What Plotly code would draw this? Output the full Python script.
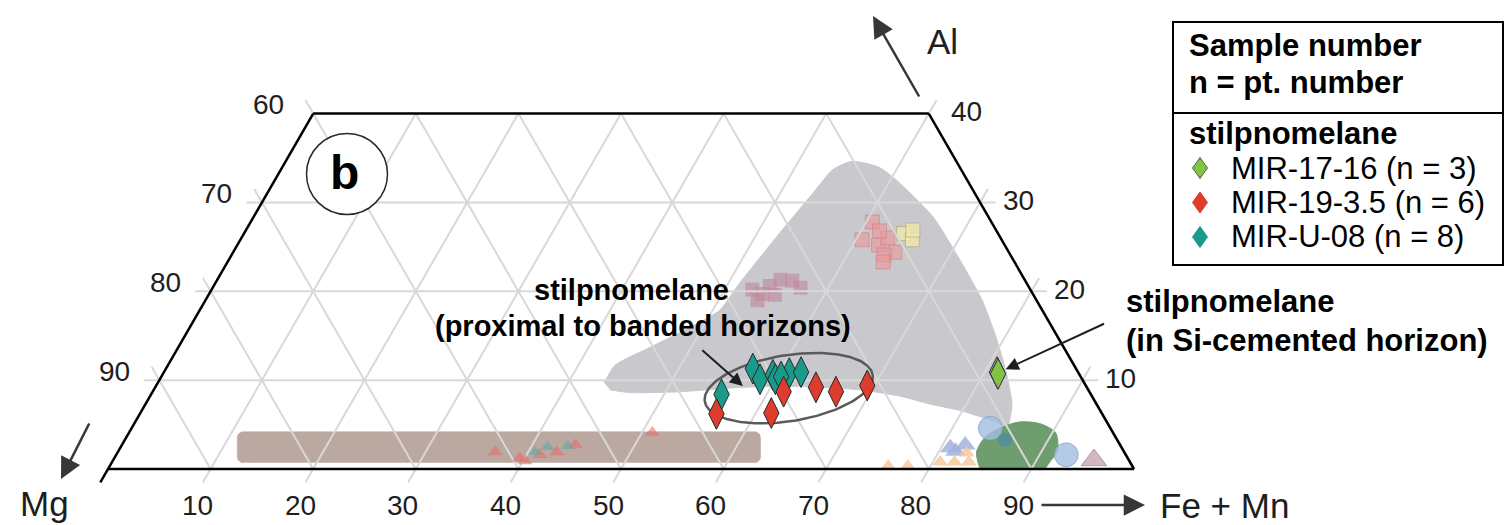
import numpy as np
import plotly.graph_objects as go

W, H = 1512, 525
FONT = "Liberation Sans, Arial, sans-serif"

# ---- ternary axes (Mg - Al - Fe+Mn), truncated at Al = 40 ----
FE_TICKS = [10, 20, 30, 40, 50, 60, 70, 80, 90]
MG_TICKS = [60, 70, 80, 90]
AL_TICKS = [40, 30, 20, 10]
AL_TOP = 40

# ---- stilpnomelane analyses: Fe+Mn and Al (mol. %) ----
MIR_17_16_FE = [81.3, 81.2, 81.4]
MIR_17_16_AL = [10.8, 10.9, 10.7]
MIR_19_35_FE = [56.2, 61.5, 61.5, 64.4, 66.6, 69.3]
MIR_19_35_AL = [6.2, 6.3, 8.7, 9.2, 8.7, 9.4]
MIR_U_08_FE = [57.2, 58.5, 59.5, 60.0, 61.0, 62.1, 55.6, 60.4]
MIR_U_08_AL = [11.3, 10.1, 10.6, 10.1, 10.8, 10.9, 8.4, 10.4]

SAMPLE_NAMES = ["MIR-17-16 (n = 3)", "MIR-19-3.5 (n = 6)", "MIR-U-08 (n = 8)"]
SAMPLE_COLORS = ["rgb(128,196,66)", "rgb(222,60,44)", "rgb(26,154,138)"]

# ---- published compositional fields (Fe+Mn, Al) ----
GRAY_FIELD_FE = [43.5, 43.6, 46.0, 49.4, 50.7, 51.1, 52.2, 53.2, 53.8, 55.1, 56.7, 58.3,
                 60.6, 66.2, 71.3, 75.7, 79.4, 82.3, 84.5, 85.2, 83.0, 79.7, 76.5, 73.1,
                 68.9, 62.9, 57.2, 51.4, 46.6, 44.5]
GRAY_FIELD_AL = [9.7, 11.7, 13.7, 16.5, 17.9, 20.9, 26.6, 31.1, 33.7, 34.6, 34.4, 33.9,
                 32.5, 28.4, 23.5, 19.0, 14.5, 10.6, 7.2, 4.9, 5.6, 6.6, 7.3, 8.2,
                 8.9, 9.3, 9.2, 8.7, 8.6, 8.9]
GREEN_FIELD_FE = [85.0, 83.7, 83.7, 84.6, 86.2, 88.3, 90.3, 91.5, 91.4, 91.3]
GREEN_FIELD_AL = [0.0, 1.9, 3.6, 4.6, 5.3, 5.1, 4.1, 2.1, 0.8, 0.0]
BAND_X = [12.6, 63.6]     # horizontal band along the Mg-Fe join (projected units)
BAND_AL = [0.7, 4.2]

# ---- other published analyses (faded symbols) ----
MAUVE_SQ_FE = [52.7, 53.9, 54.2, 54.9, 56.1, 57.3, 55.2, 53.8]
MAUVE_SQ_AL = [20.2, 19.7, 20.6, 21.3, 21.2, 20.4, 19.6, 19.0]
PINK_SQ_FE = [60.6, 60.6, 62.5, 63.0, 64.5, 63.6, 61.8, 63.9]
PINK_SQ_AL = [27.8, 25.8, 25.2, 26.0, 24.4, 24.1, 26.8, 23.3]
YELLOW_SQ_FE = [64.3, 65.5, 65.0]
YELLOW_SQ_AL = [26.5, 25.8, 26.9]
RED_TRI_FE = [36.8, 39.5, 41.3, 42.8, 44.2, 51.0, 40.2]
RED_TRI_AL = [1.9, 1.2, 1.6, 1.9, 2.7, 4.1, 0.9]
TEAL_TRI_FE = [41.6, 40.7, 43.5]
TEAL_TRI_AL = [2.5, 1.9, 2.6]
PEACH_TRI_FE = [75.9, 77.8, 80.7, 82.1, 83.5, 82.8]
PEACH_TRI_AL = [0.3, 0.3, 0.8, 0.8, 0.8, 1.8]
BLUE_TRI_FE = [80.9, 82.2, 81.6]
BLUE_TRI_AL = [2.4, 2.7, 2.0]
BLUE_CIRC_FE = [83.7, 92.6]
BLUE_CIRC_AL = [4.6, 1.6]
DARK_CIRC_FE = [85.8]
DARK_CIRC_AL = [3.3]
MAUVE_TRI_FE = [95.6]
MAUVE_TRI_AL = [1.0]

# ---- projection of ternary coordinates onto the plane ----
X0_PX, Y0_PX = 108.0, 469.0      # pixel position of the Mg apex
UX, UY = 10.26, 8.885            # pixels per unit along the Fe and Al directions


def proj(fe, al):
    fe = np.asarray(fe, float)
    al = np.asarray(al, float)
    return fe + al / 2.0, al


def paper(px, py):
    return px / W, 1 - py / H


def label(px, py, text, font, xanchor="center"):
    x, y = paper(px, py)
    fig.add_annotation(x=x, y=y, xref="paper", yref="paper", text=text, showarrow=False,
                       font=font, xanchor=xanchor, yanchor="middle")


fig = go.Figure()

# shaded fields
gx, gy = proj(GRAY_FIELD_FE, GRAY_FIELD_AL)
fig.add_trace(go.Scatter(x=gx, y=gy, mode="lines", fill="toself",
                         line=dict(color="rgb(201,201,205)", width=1, shape="spline", smoothing=0.6),
                         fillcolor="rgb(201,201,205)", hoverinfo="skip", showlegend=False))

# rounded band outline (corner arcs of ~6 px)
bx0, bx1 = BAND_X
by0, by1 = BAND_AL
rpx = 6.0
crx, cry = rpx / UX, rpx / UY
band_x, band_y = [], []
for (ccx, ccy, a0) in [(bx1 - crx, by0 + cry, -90), (bx1 - crx, by1 - cry, 0),
                       (bx0 + crx, by1 - cry, 90), (bx0 + crx, by0 + cry, 180)]:
    ang = np.deg2rad(np.linspace(a0, a0 + 90, 8))
    band_x += list(ccx + crx * np.cos(ang))
    band_y += list(ccy + cry * np.sin(ang))
fig.add_trace(go.Scatter(x=band_x, y=band_y, mode="lines", fill="toself",
                         line=dict(color="rgb(187,168,160)", width=0.5),
                         fillcolor="rgb(187,168,160)", hoverinfo="skip", showlegend=False))


def faded(fe, al, symbol, size, color, line="rgba(0,0,0,0)"):
    x, y = proj(fe, al)
    fig.add_trace(go.Scatter(x=x, y=y, mode="markers", hoverinfo="skip", showlegend=False,
                             marker=dict(symbol=symbol, size=size, color=color,
                                         line=dict(color=line, width=1))))


faded(MAUVE_SQ_FE, MAUVE_SQ_AL, "square", 14, "rgba(190,135,155,0.6)")
faded(PINK_SQ_FE, PINK_SQ_AL, "square", 14, "rgba(236,150,150,0.6)", "rgba(200,120,140,0.5)")
faded(YELLOW_SQ_FE, YELLOW_SQ_AL, "square", 14, "rgba(240,234,170,0.75)", "rgba(170,160,110,0.6)")

gfx, gfy = proj(GREEN_FIELD_FE, GREEN_FIELD_AL)
fig.add_trace(go.Scatter(x=gfx, y=gfy, mode="lines", fill="toself",
                         line=dict(color="rgb(110,158,110)", width=1, shape="spline", smoothing=0.8),
                         fillcolor="rgb(110,158,110)", hoverinfo="skip", showlegend=False))
faded(BLUE_TRI_FE, BLUE_TRI_AL, "triangle-up", 18, "rgba(165,178,222,0.85)")
faded(PEACH_TRI_FE, PEACH_TRI_AL, "triangle-up", 14, "rgba(246,200,160,0.85)")
faded(BLUE_CIRC_FE, BLUE_CIRC_AL, "circle", 24, "rgba(160,190,225,0.8)", "rgba(120,150,190,0.6)")
faded(DARK_CIRC_FE, DARK_CIRC_AL, "circle", 14, "rgba(80,140,160,0.8)")
faded(MAUVE_TRI_FE, MAUVE_TRI_AL, "triangle-up", 22, "rgba(205,170,185,0.85)", "rgba(160,120,140,0.7)")

# grid lines, each running a short way past the frame as a tick
EXT = 1.5
gxs, gys = [], []
for a in [10, 20, 30]:                       # constant Al
    gxs += [a / 2 - EXT, 100 - a / 2 + EXT, None]
    gys += [a, a, None]
for f in FE_TICKS:                           # constant Fe+Mn
    top = min(AL_TOP, 100 - f)
    t_ext = EXT if 100 - f <= AL_TOP else 0
    x0, y0 = proj(f, -EXT)
    x1, y1 = proj(f, top + t_ext)
    gxs += [float(x0), float(x1), None]
    gys += [float(y0), float(y1), None]
for m in FE_TICKS:                           # constant Mg
    s = 100 - m
    top = min(AL_TOP, s)
    al_end = top + (EXT if s <= AL_TOP else 0)
    x0, y0 = proj(s, 0)
    x1, y1 = proj(s - al_end, al_end)
    gxs += [float(x0), float(x1), None]
    gys += [float(y0), float(y1), None]
fig.add_trace(go.Scatter(x=gxs, y=gys, mode="lines", line=dict(color="rgb(216,216,216)", width=2),
                         hoverinfo="skip", showlegend=False))

# faded triangles sitting on the band
faded(RED_TRI_FE, RED_TRI_AL, "triangle-up", 13, "rgba(228,110,110,0.6)")
faded(TEAL_TRI_FE, TEAL_TRI_AL, "triangle-up", 12, "rgba(90,170,160,0.55)")

# frame
fx, fy = [], []
for (fa, aa), (fb, ab) in [((0, -EXT), (0, AL_TOP)), ((0, AL_TOP), (100 - AL_TOP, AL_TOP)),
                           ((100 - AL_TOP, AL_TOP), (100, 0)), ((0, 0), (100, 0))]:
    xa, ya = proj(fa, aa)
    xb, yb = proj(fb, ab)
    fx += [float(xa), float(xb), None]
    fy += [float(ya), float(yb), None]
fig.add_trace(go.Scatter(x=fx, y=fy, mode="lines", line=dict(color="black", width=2.5),
                         hoverinfo="skip", showlegend=False))

# ellipse around the stilpnomelane near banded horizons
EL_FE, EL_AL = 61.8, 9.1
EL_RX, EL_RY, EL_ROT = 85, 33, np.deg2rad(9)
t = np.linspace(0, 2 * np.pi, 200)
dx = EL_RX * np.cos(t) * np.cos(EL_ROT) - EL_RY * np.sin(t) * np.sin(EL_ROT)
dy = EL_RX * np.cos(t) * np.sin(EL_ROT) + EL_RY * np.sin(t) * np.cos(EL_ROT)
ecx, ecy = proj(EL_FE, EL_AL)
fig.add_trace(go.Scatter(x=ecx + dx / UX, y=ecy + dy / UY, mode="lines",
                         line=dict(color="rgb(90,90,90)", width=2.5), hoverinfo="skip", showlegend=False))

# stilpnomelane samples
def sample(fe, al, name, color, line="rgb(40,40,40)"):
    x, y = proj(fe, al)
    fig.add_trace(go.Scatter(x=x, y=y, mode="markers", name=name, showlegend=False,
                             marker=dict(symbol="diamond-tall", size=22, color=color,
                                         line=dict(color=line, width=1))))


sample(MIR_U_08_FE, MIR_U_08_AL, SAMPLE_NAMES[2], SAMPLE_COLORS[2])
sample(MIR_19_35_FE, MIR_19_35_AL, SAMPLE_NAMES[1], SAMPLE_COLORS[1])
sample(MIR_17_16_FE, MIR_17_16_AL, SAMPLE_NAMES[0], SAMPLE_COLORS[0], line="rgb(60,40,90)")

# tick labels
TICK_FONT = dict(family=FONT, size=28, color="rgb(30,30,30)")
for f in FE_TICKS:
    x, y = proj(f, 0)
    fig.add_annotation(x=float(x), y=float(y), text=str(f), showarrow=False, font=TICK_FONT,
                       xshift=-13, yshift=-36)
for m in MG_TICKS:
    x, y = proj(0, 100 - m)
    fig.add_annotation(x=float(x), y=float(y), text=str(m), showarrow=False, font=TICK_FONT,
                       xshift=-45, yshift=9)
for a in AL_TICKS:
    x, y = proj(100 - a, a)
    fig.add_annotation(x=float(x), y=float(y), text=str(a), showarrow=False, font=TICK_FONT,
                       xshift=38, yshift=2)

# apex labels and direction arrows
AX_FONT = dict(family=FONT, size=35, color="rgb(30,30,30)")
label(942, 41, "Al", AX_FONT)
label(44, 503, "Mg", AX_FONT)
label(1224, 505, "Fe + Mn", AX_FONT)
for (hx, hy), (tx, ty) in [((873, 16), (920, 98)), ((61, 479), (90, 422)), ((1145, 505), (1040, 505))]:
    x, y = paper(hx, hy)
    fig.add_annotation(x=x, y=y, xref="paper", yref="paper", text="", showarrow=True,
                       ax=tx - hx, ay=ty - hy, arrowhead=2, arrowsize=1.7, arrowwidth=2.5,
                       arrowcolor="rgb(55,55,55)")

# panel label
cx, cy = paper(347, 174)
r = 40.5
fig.add_shape(type="circle", xref="paper", yref="paper", x0=cx - r / W, x1=cx + r / W,
              y0=cy - r / H, y1=cy + r / H, line=dict(color="rgb(40,40,40)", width=1.5),
              fillcolor="white")
label(344, 172, "<b>b</b>", dict(family=FONT, size=48, color="black"))

# callouts
label(631, 290, "<b>stilpnomelane</b>", dict(family=FONT, size=29, color="black"))
label(643, 326, "<b>(proximal to banded horizons)</b>", dict(family=FONT, size=29, color="black"))
label(1124, 301, "<b>stilpnomelane</b>", dict(family=FONT, size=31, color="black"), "left")
label(1124, 340, "<b>(in Si-cemented horizon)</b>", dict(family=FONT, size=31, color="black"), "left")

hx, hy = proj(57.2, 9.35)
fig.add_annotation(x=float(hx), y=float(hy), text="", showarrow=True, ax=-42, ay=-37,
                   arrowhead=2, arrowsize=1.3, arrowwidth=2, arrowcolor="rgb(30,30,30)")
gx0, gy0 = proj(np.mean(MIR_17_16_FE), np.mean(MIR_17_16_AL))
fig.add_annotation(x=float(gx0), y=float(gy0), text="", showarrow=True, ax=108, ay=-50,
                   standoff=9, arrowhead=2, arrowsize=1.3, arrowwidth=2, arrowcolor="rgb(30,30,30)")

# legend box
LG_L, LG_R, LG_T, LG_B, LG_DIV = 1173, 1503, 22, 265, 113
x0, y0 = paper(LG_L, LG_T)
x1, y1 = paper(LG_R, LG_B)
fig.add_shape(type="rect", xref="paper", yref="paper", x0=x0, x1=x1, y0=y1, y1=y0,
              fillcolor="white", line=dict(color="black", width=2))
xd0, yd = paper(LG_L, LG_DIV)
xd1, _ = paper(LG_R, LG_DIV)
fig.add_shape(type="line", xref="paper", yref="paper", x0=xd0, x1=xd1, y0=yd, y1=yd,
              line=dict(color="black", width=2))
LG_BOLD = dict(family=FONT, size=31, color="black")
LG_TEXT = dict(family=FONT, size=31, color="black")
label(1187, 45, "<b>Sample number</b>", LG_BOLD, "left")
label(1187, 82, "<b>n = pt. number</b>", LG_BOLD, "left")
label(1187, 133, "<b>stilpnomelane</b>", LG_BOLD, "left")
for i, (name, color) in enumerate(zip(SAMPLE_NAMES, SAMPLE_COLORS)):
    py = 168 + 34.5 * i
    label(1229, py, name, LG_TEXT, "left")
    sx, sy = paper(1200, py)
    hw, hh = 7.5 / W, 10.5 / H
    fig.add_shape(type="path", xref="paper", yref="paper",
                  path=f"M {sx},{sy+hh} L {sx+hw},{sy} L {sx},{sy-hh} L {sx-hw},{sy} Z",
                  fillcolor=color, line=dict(color="rgb(90,90,90)" if i == 0 else color, width=1))

fig.update_layout(
    width=W, height=H, margin=dict(l=0, r=0, t=0, b=0),
    paper_bgcolor="white", plot_bgcolor="white", showlegend=False,
    xaxis=dict(range=[-X0_PX / UX, (W - X0_PX) / UX], visible=False, fixedrange=True),
    yaxis=dict(range=[(Y0_PX - H) / UY, Y0_PX / UY], visible=False, fixedrange=True),
)

fig.write_html("out.html")
